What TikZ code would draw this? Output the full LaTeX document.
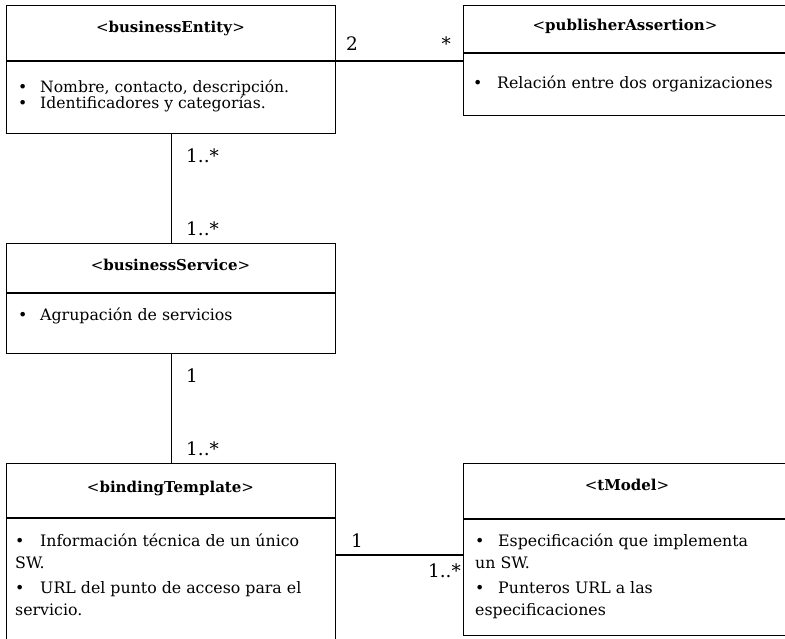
\documentclass[tikz,border=0pt]{standalone}
\usepackage{fontspec}
\setmainfont{DejaVu Serif}
\begin{document}
\begin{tikzpicture}[x=1pt,y=-1pt,
  box/.style={draw=black, line width=1.3pt, inner sep=0pt, anchor=north west},
  conn/.style={draw=black, line width=1.3pt},
  ttl/.style={anchor=base, inner sep=0pt, font=\fontsize{15}{16}\selectfont},
  body/.style={anchor=base west, inner sep=0pt, align=left, font=\fontsize{15.8}{21.5}\selectfont},
  mult/.style={inner sep=0pt, font=\fontsize{18.5}{18.5}\selectfont}]
\useasboundingbox (0,0) rectangle (785,638);
\clip (0,0) rectangle (785,638);
% boxes
\node[box, minimum width=329pt, minimum height=128pt] (BE) at (6,5) {};
\node[box, minimum width=326pt, minimum height=110pt] (PA) at (463,5) {};
\node[box, minimum width=329pt, minimum height=110pt] (BS) at (6,243) {};
\node[box, minimum width=329pt, minimum height=190pt] (BT) at (6,463) {};
\node[box, minimum width=326pt, minimum height=172pt] (TM) at (463,463) {};
% dividers
\coordinate (BEd) at (6,61);
\coordinate (PAd) at (463,53);
\coordinate (BSd) at (6,293);
\coordinate (BTd) at (6,518);
\coordinate (TMd) at (463,519);
\draw[conn] (BEd) -- (BEd -| BE.east);
\draw[conn] (PAd) -- (PAd -| PA.east);
\draw[conn] (BSd) -- (BSd -| BS.east);
\draw[conn] (BTd) -- (BTd -| BT.east);
\draw[conn] (TMd) -- (TMd -| TM.east);
% titles
\node[ttl] (BEt) at (170.5,32) {<\textbf{businessEntity}>};
\node[ttl] (PAt) at (625,30) {<\textbf{publisherAssertion}>};
\node[ttl] (BSt) at (170.5,270) {<\textbf{businessService}>};
\node[ttl] (BTt) at (170.5,492) {<\textbf{bindingTemplate}>};
\node[ttl] (TMt) at (627,490) {<\textbf{tModel}>};
% bodies (anchored at the baseline of their last line)
\node[body, font=\fontsize{15.6}{16}\selectfont] (BEb) at (18,108) {\makebox[22pt][l]{•}Nombre, contacto, descripción.\\\makebox[22pt][l]{•}Identificadores y categorías.};
\node[body] (PAb) at (473,88) {\makebox[24pt][l]{•}Relación entre dos organizaciones};
\node[body] (BSb) at (18,320) {\makebox[22pt][l]{•}Agrupación de servicios};
\node[body] (BTb) at (15,615) {\makebox[25pt][l]{•}Información técnica de un único\\SW.\\[4pt]\makebox[25pt][l]{•}URL del punto de acceso para el\\servicio.};
\node[body] (TMb) at (475,615) {\makebox[23pt][l]{•}Especificación que implementa\\un SW.\\[4pt]\makebox[23pt][l]{•}Punteros URL a las\\especificaciones};
% connectors
\coordinate (BTTM) at (0,555);
\draw[conn] (BEd -| BE.east) -- (BEd -| PA.west);
\draw[conn] (BE.south) -- (BS.north);
\draw[conn] (BS.south) -- (BT.north);
\draw[conn] (BTTM -| BT.east) -- (BTTM -| TM.west);
% multiplicities
\node[mult, anchor=base west] (m1) at (346,50) {2};
\node[mult, anchor=base east] (m2) at (451,50) {*};
\node[mult, anchor=base west] (m3) at (186,162) {1..*};
\node[mult, anchor=base west] (m4) at (186,235) {1..*};
\node[mult, anchor=base west] (m5) at (186,382) {1};
\node[mult, anchor=base west] (m6) at (186,455) {1..*};
\node[mult, anchor=base west] (m7) at (351,547) {1};
\node[mult, anchor=base east] (m8) at (461,577) {1..*};
\end{tikzpicture}
\end{document}
